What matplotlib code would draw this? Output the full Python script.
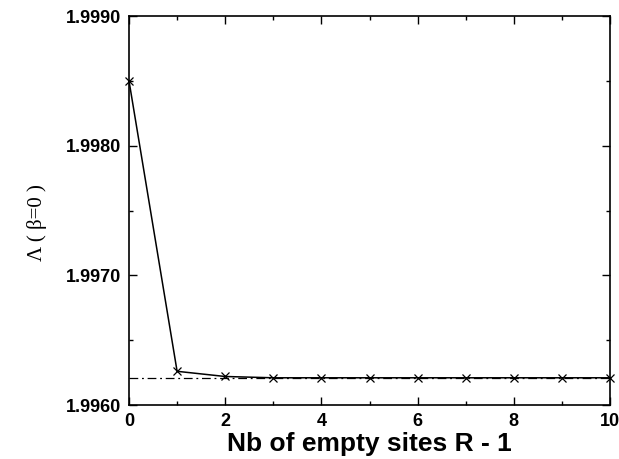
#!/usr/bin/env python3
"""Lambda(beta=0) versus number of empty sites."""
import matplotlib
matplotlib.use("Agg")
import matplotlib.pyplot as plt
from matplotlib.ticker import MultipleLocator

# data
n_empty = [0, 1, 2, 3, 4, 5, 6, 7, 8, 9, 10]
lam = [1.99850, 1.99626, 1.99622, 1.99621, 1.99621, 1.99621,
       1.99621, 1.99621, 1.99621, 1.99621, 1.99621]
lam_limit = 1.99621

plt.rcParams["font.family"] = ["Liberation Sans", "DejaVu Sans"]


def main() -> None:
    fig = plt.figure(figsize=(6.19, 4.59), dpi=100)
    ax = fig.add_axes([0.2084, 0.1176, 0.7771, 0.8475])

    ax.axhline(lam_limit, color="black", lw=0.9, ls=(0, (7, 3, 1.5, 3)))
    ax.plot(n_empty, lam, color="black", lw=1.1, marker="x", ms=6, mew=0.9,
            clip_on=False, zorder=3)

    ax.set_xlim(0, 10)
    ax.set_ylim(1.9960, 1.9990)
    ax.xaxis.set_major_locator(MultipleLocator(2))
    ax.xaxis.set_minor_locator(MultipleLocator(1))
    ax.yaxis.set_major_locator(MultipleLocator(0.001))
    ax.yaxis.set_minor_locator(MultipleLocator(0.0005))
    ax.yaxis.set_major_formatter(plt.FormatStrFormatter("%.4f"))

    ax.tick_params(which="both", direction="in", top=True, right=True,
                   width=1.0, color="black")
    ax.tick_params(which="major", length=6, labelsize=13, pad=6)
    ax.tick_params(which="minor", length=3)
    for lab in ax.get_xticklabels() + ax.get_yticklabels():
        lab.set_fontweight("bold")
    for sp in ax.spines.values():
        sp.set_linewidth(1.2)

    ax.set_xlabel("Nb of empty sites R - 1", fontsize=19, fontweight="bold",
                  labelpad=1)
    ax.set_ylabel("Λ ( β=0 )", fontsize=15, family=["Liberation Serif", "DejaVu Serif"],
                  labelpad=20)
    ax.yaxis.set_label_coords(-0.17, 0.47)

    fig.savefig("out.png", dpi=100, facecolor="white")


if __name__ == "__main__":
    main()
